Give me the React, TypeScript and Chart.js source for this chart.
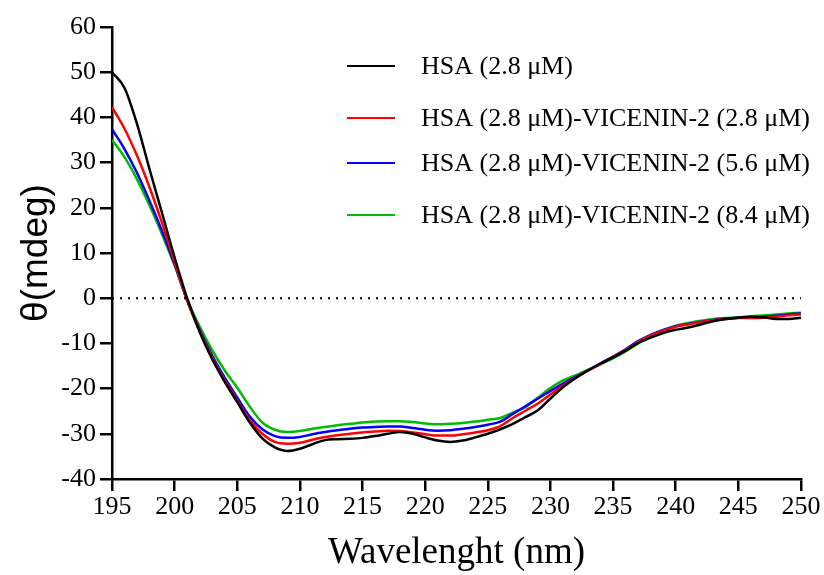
import React, { useEffect, useRef } from "react";
import { Chart, registerables } from "chart.js";

Chart.register(...registerables);

const wavelengths: number[] = [];
for (let w = 195; w <= 250; w++) wavelengths.push(w);

const seriesLabels = [
  "HSA (2.8 \u03bcM)",
  "HSA (2.8 \u03bcM)-VICENIN-2 (2.8 \u03bcM)",
  "HSA (2.8 \u03bcM)-VICENIN-2 (5.6 \u03bcM)",
  "HSA (2.8 \u03bcM)-VICENIN-2 (8.4 \u03bcM)",
];
const seriesColors = ["#000000", "#ff0000", "#0000ff", "#00bb00"];

const hsa = [
  50, 46.5, 38.5, 28.5, 18.8, 9, 0, -7.5, -13.5, -18.5,
  -23, -27.5, -31, -33, -33.8, -33.3, -32.3, -31.4, -31.2, -31.1,
  -30.9, -30.5, -30, -29.6, -30, -30.8, -31.5, -31.8, -31.5, -30.8,
  -30, -29, -27.8, -26.3, -24.8, -22.2, -19.7, -17.7, -16, -14.5,
  -13.1, -11.6, -9.9, -8.7, -7.7, -7, -6.5, -5.8, -5.1, -4.6,
  -4.3, -4.1, -4.2, -4.6, -4.6, -4.3,
];
const vic28 = [
  42.3, 37.5, 31.5, 24.5, 16.6, 8, -0.5, -7.3, -13.2, -18.2,
  -22.7, -27, -30, -31.8, -32.2, -32, -31.3, -30.7, -30.3, -30,
  -29.7, -29.5, -29.3, -29.4, -29.7, -30.1, -30.4, -30.4, -30.1, -29.7,
  -29.2, -28.3, -26.5, -24.9, -23.3, -21.3, -19.3, -17.6, -16, -14.6,
  -13, -11.5, -9.7, -8.3, -7.2, -6.3, -5.8, -5.3, -4.9, -4.6,
  -4.4, -4.4, -4.3, -4.1, -3.8, -3.6,
];
const vic56 = [
  37.4, 33, 27.7, 21.5, 14.8, 7.5, -0.5, -7, -12.7, -17.6,
  -22, -26.2, -29, -30.5, -30.9, -30.7, -30.1, -29.6, -29.2, -28.9,
  -28.6, -28.5, -28.4, -28.4, -28.7, -29.1, -29.3, -29.2, -28.9, -28.5,
  -28, -27.3, -25.6, -23.9, -22.2, -20.5, -18.9, -17.4, -16, -14.4,
  -12.9, -11.3, -9.5, -8.1, -7, -6.2, -5.7, -5.2, -4.8, -4.5,
  -4.3, -4.2, -4.1, -3.9, -3.6, -3.4,
];
const vic84 = [
  35, 31.2, 26.3, 20.5, 14.1, 7.2, -0.3, -6.3, -11.5, -16,
  -19.8, -24, -27.5, -29.1, -29.6, -29.4, -28.9, -28.5, -28.1, -27.8,
  -27.5, -27.3, -27.2, -27.2, -27.4, -27.7, -27.9, -27.8, -27.6, -27.3,
  -26.9, -26.5, -25.3, -24.1, -22, -19.9, -18.2, -17.1, -15.8, -14.5,
  -13.3, -11.8, -10, -8.4, -7.1, -6.1, -5.5, -5, -4.6, -4.4,
  -4.2, -4, -3.8, -3.6, -3.4, -3.2,
];
const seriesValues = [hsa, vic28, vic56, vic84];

const zeroLine = [
  { x: 195, y: 0 },
  { x: 250, y: 0 },
];

const serif = '"Liberation Serif"';
const sans = '"Liberation Sans"';

const legendPlugin = {
  id: "customLegend",
  afterDatasetsDraw(chart: any) {
    const ctx = chart.ctx;
    const rows = [66, 118, 163, 215];
    ctx.save();
    ctx.font = `26px ${serif}`;
    ctx.textBaseline = "middle";
    ctx.textAlign = "left";
    rows.forEach((y, i) => {
      ctx.strokeStyle = seriesColors[i];
      ctx.lineWidth = 2;
      ctx.beginPath();
      ctx.moveTo(347, y);
      ctx.lineTo(395, y);
      ctx.stroke();
      ctx.fillStyle = "#000";
      ctx.fillText(seriesLabels[i], 421, y + 1);
    });
    ctx.restore();
  },
};

export default function App() {
  const ref = useRef<HTMLCanvasElement | null>(null);
  useEffect(() => {
    document.body.style.margin = "0";
    if (!ref.current) return;
    const datasets: any[] = seriesValues.map((vals, i) => ({
      label: seriesLabels[i],
      data: vals.map((v, j) => ({ x: wavelengths[j], y: v })),
      borderColor: seriesColors[i],
      borderWidth: 2.5,
      pointRadius: 0,
      cubicInterpolationMode: "monotone",
      fill: false,
    }));
    datasets.unshift({
      label: "zero",
      data: zeroLine,
      borderColor: "#000",
      borderWidth: 2,
      borderDash: [2, 6],
      pointRadius: 0,
      fill: false,
    });
    const chart: any = new Chart(ref.current, {
      type: "line",
      data: { datasets },
      plugins: [legendPlugin],
      options: {
        responsive: false,
        animation: false,
        font: { family: serif },
        layout: { padding: { left: 0, top: 27, right: 23, bottom: 0 } },
        plugins: { legend: { display: false }, tooltip: { enabled: false } },
        scales: {
          x: {
            type: "linear",
            min: 195,
            max: 250,
            afterFit: (s: any) => {
              s.height = 96;
            },
            ticks: {
              stepSize: 5,
              color: "#000",
              padding: 1,
              font: { family: serif, size: 26 },
            },
            grid: {
              drawOnChartArea: false,
              tickLength: 12,
              color: "#000",
              lineWidth: 2.5,
            },
            border: { color: "#000", width: 2.5 },
            title: {
              display: true,
              text: "Wavelenght (nm)",
              color: "#000",
              font: { family: serif, size: 37 },
              padding: { top: 0, bottom: 0 },
            },
          },
          y: {
            min: -40,
            max: 60,
            afterFit: (s: any) => {
              s.width = 112;
            },
            ticks: {
              stepSize: 10,
              color: "#000",
              padding: 4,
              font: { family: serif, size: 26 },
            },
            grid: {
              drawOnChartArea: false,
              tickLength: 12,
              color: "#000",
              lineWidth: 2.5,
            },
            border: { color: "#000", width: 2.5 },
            title: {
              display: true,
              text: "\u03b8(mdeg)",
              color: "#000",
              font: { family: sans, size: 37 },
              padding: { top: 15, bottom: 0 },
            },
          },
        },
      },
    });
    return () => {
      chart.destroy();
    };
  }, []);
  return <canvas ref={ref} width={824} height={575} style={{ display: "block" }} />;
}
